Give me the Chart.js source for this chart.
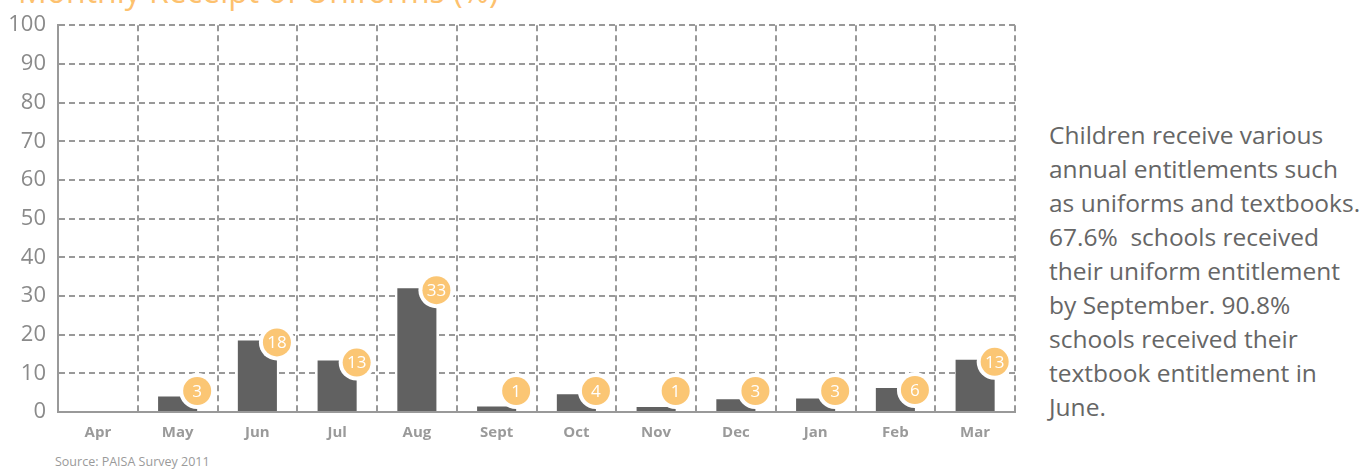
<!DOCTYPE html>
<html>
<head>
<meta charset="utf-8">
<script src="https://cdn.jsdelivr.net/npm/chart.js@4"></script>
<style>
  html, body { margin: 0; padding: 0; background: #fff; overflow: hidden; }
  body { width: 1367px; height: 470px; position: relative; font-family: "Open Sans", sans-serif; }
  #title { position: absolute; left: 18px; top: -25px; font-size: 32px; line-height: 32px; color: #fdc16e; white-space: nowrap; }
  #wrap { position: absolute; left: 0; top: 0; width: 1020px; height: 450px; }
  #note { position: absolute; left: 1049px; top: 118px; font-size: 24.5px; line-height: 34px; color: #666; white-space: nowrap; }
  #source { position: absolute; left: 55px; top: 453px; font-size: 12.5px; color: #9a9a9a; }
</style>
</head>
<body>
<div id="title">Monthly Receipt of Uniforms (%)</div>
<div id="wrap"><canvas id="uniformChart" width="1020" height="450"></canvas></div>
<div id="note">Children receive various<br>annual entitlements such<br>as uniforms and textbooks.<br>67.6%&nbsp; schools received<br>their uniform entitlement<br>by September. 90.8%<br>schools received their<br>textbook entitlement in<br>June.</div>
<div id="source">Source: PAISA Survey 2011</div>
<script>
const months = ['Apr', 'May', 'Jun', 'Jul', 'Aug', 'Sept', 'Oct', 'Nov', 'Dec', 'Jan', 'Feb', 'Mar'];
const barHeights = [0, 4, 18.5, 13.3, 32, 1.4, 4.6, 1.3, 3.3, 3.5, 6.2, 13.5];
const badgeLabels = [null, 3, 18, 13, 33, 1, 4, 1, 3, 3, 6, 13];
const yTicks = [0, 10, 20, 30, 40, 50, 60, 70, 80, 90, 100];

const gridColor = '#999999';
const dash = [6, 4];

// orange number badges sitting on the top-right corner of each bar
const badgePlugin = {
    id: 'badges',
    afterDatasetsDraw(chart) {
        const ctx = chart.ctx;
        const meta = chart.getDatasetMeta(0);
        meta.data.forEach((bar, i) => {
            const label = badgeLabels[i];
            if (label === null) return;
            const cx = bar.x + bar.width / 2;
            const cy = Math.min(bar.y + 2, bar.base - 20);
            ctx.save();
            ctx.beginPath();
            ctx.arc(cx, cy, 18, 0, Math.PI * 2);
            ctx.fillStyle = '#ffffff';
            ctx.fill();
            ctx.beginPath();
            ctx.arc(cx, cy, 14, 0, Math.PI * 2);
            ctx.fillStyle = '#fbc674';
            ctx.fill();
            ctx.fillStyle = '#ffffff';
            ctx.font = '17px "Open Sans", sans-serif';
            ctx.textAlign = 'center';
            ctx.textBaseline = 'middle';
            ctx.fillText(String(label), cx, cy + 1);
            ctx.restore();
        });
    }
};

const ctx = document.getElementById('uniformChart').getContext('2d');

new Chart(ctx, {
    type: 'bar',
    data: {
        labels: months,
        datasets: [{
            data: barHeights,
            backgroundColor: '#616161',
            borderWidth: 0,
            barPercentage: 0.49,
            categoryPercentage: 1
        }]
    },
    options: {
        responsive: false,
        animation: false,
        layout: { padding: { top: 20, right: 5, bottom: 0, left: 0 } },
        plugins: {
            legend: { display: false },
            tooltip: { enabled: false }
        },
        scales: {
            x: {
                afterFit: s => { s.height = 38; },
                grid: {
                    offset: true,
                    color: gridColor,
                    lineWidth: 2,
                    drawTicks: false
                },
                border: { display: true, color: gridColor, width: 2, dash: dash },
                ticks: {
                    color: '#9a9a9a',
                    padding: 12,
                    font: { family: '"Open Sans", sans-serif', size: 15, weight: 'bold' }
                }
            },
            y: {
                min: 0,
                max: 100,
                afterFit: s => { s.width = 58; },
                afterBuildTicks: s => { s.ticks = yTicks.map(v => ({ value: v })); },
                grid: {
                    color: gridColor,
                    lineWidth: 2,
                    drawTicks: false
                },
                border: { display: true, color: gridColor, width: 2, dash: dash },
                ticks: {
                    color: '#8a8a8a',
                    padding: 12,
                    font: { family: '"Open Sans", sans-serif', size: 22 }
                }
            }
        }
    },
    plugins: [badgePlugin]
});
</script>
</body>
</html>
